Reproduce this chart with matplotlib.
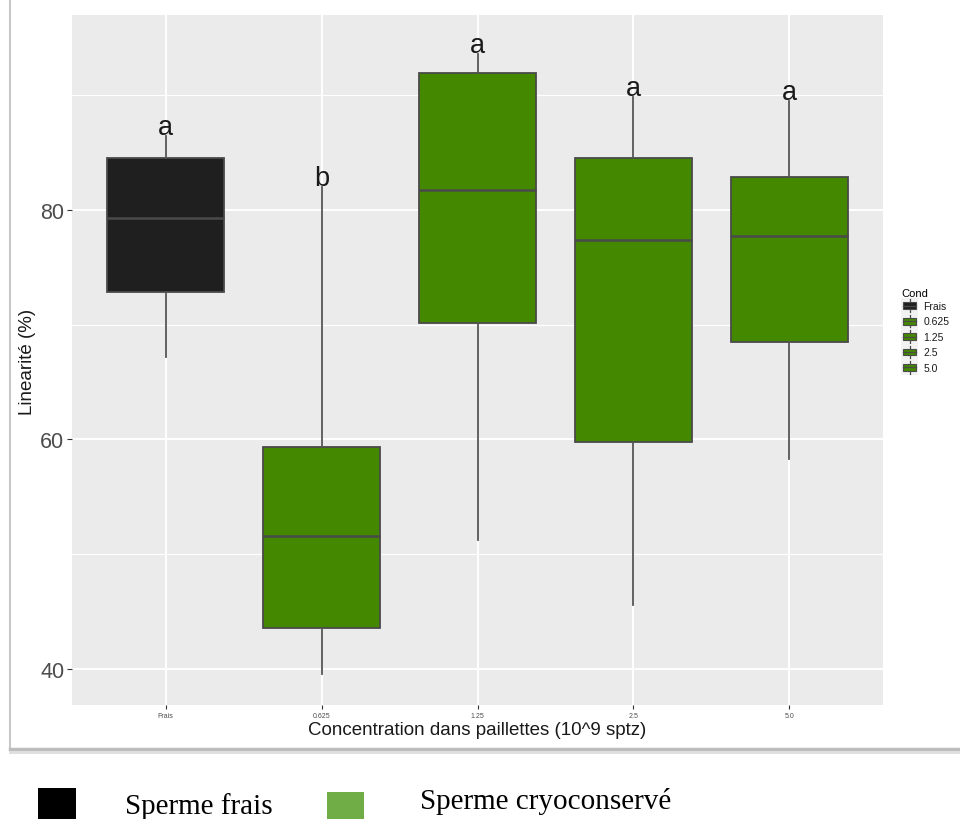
import matplotlib
matplotlib.use("Agg")
import matplotlib.pyplot as plt
from matplotlib.patches import Rectangle, Patch
from matplotlib.lines import Line2D
from matplotlib.legend_handler import HandlerBase

plt.rcParams['font.family'] = ['Liberation Sans', 'DejaVu Sans']

# linearity (%) per straw concentration
cond = ['Frais', '0.625', '1.25', '2.5', '5.0']
q1 = [72.85, 43.6, 70.15, 59.8, 68.5]
med = [79.3, 51.6, 81.75, 77.4, 77.7]
q3 = [84.5, 59.35, 91.95, 84.55, 82.9]
whislo = [67.2, 39.55, 51.25, 45.6, 58.3]
whishi = [86.45, 82.0, 93.6, 89.85, 89.5]
letters = ['a', 'b', 'a', 'a', 'a']

black = '#1f1f1f'
green = '#448800'
fills = [black, green, green, green, green]
edge = '#4a4a4a'

fig = plt.figure(figsize=(9.6, 8.2), dpi=100)
W, H = 960.0, 820.0
ax = fig.add_axes([72 / W, 1 - 706 / H, (883 - 72) / W, (706 - 16) / H])
ax.set_facecolor('#ebebeb')

stats = []
for i in range(len(cond)):
    stats.append({'label': cond[i], 'q1': q1[i], 'med': med[i], 'q3': q3[i],
                  'whislo': whislo[i], 'whishi': whishi[i], 'fliers': []})

pos = list(range(1, len(cond) + 1))
bp = ax.bxp(stats, positions=pos, widths=0.75, patch_artist=True, showcaps=False,
            boxprops=dict(edgecolor=edge, linewidth=1.3),
            medianprops=dict(color=edge, linewidth=1.8),
            whiskerprops=dict(color='#555555', linewidth=1.3), zorder=3)
for b, c in zip(bp['boxes'], fills):
    b.set_facecolor(c)

for i in range(len(cond)):
    ax.text(pos[i], whishi[i] + 0.15, letters[i], ha='center', va='baseline',
            fontsize=19.5, color='#1a1a1a', zorder=4)

ax.set_xlim(0.4, 5.6)
ax.set_ylim(36.85, 97.0)
ax.set_yticks([40, 60, 80])
ax.set_yticks([50, 70, 90], minor=True)
ax.set_xticks(pos)
ax.set_xticklabels(cond)
ax.grid(which='major', color='white', linewidth=1.4, zorder=0)
ax.grid(which='minor', axis='y', color='white', linewidth=0.8, zorder=0)
ax.set_axisbelow(True)
for s in ax.spines.values():
    s.set_visible(False)
ax.tick_params(axis='y', which='major', length=3.5, width=0.8, color='#333333',
               labelcolor='#4d4d4d', labelsize=15.5, pad=2)
ax.tick_params(axis='x', which='major', length=3, width=0.8, color='#333333',
               labelcolor='#4d4d4d', labelsize=5, pad=2)
ax.tick_params(which='minor', length=0)

fig.text(27 / W, 1 - 362 / H, 'Linearité (%)', rotation=90, ha='center', va='center',
         fontsize=13.5, color='#1a1a1a')
fig.text(477 / W, 1 - 731 / H, 'Concentration dans paillettes (10^9 sptz)', ha='center',
         va='center', fontsize=13.5, color='#1a1a1a')


# legend key drawn like a small boxplot
class BoxKey(HandlerBase):
    def create_artists(self, legend, orig_handle, xdescent, ydescent, width, height,
                       fontsize, trans):
        x0, y0 = -xdescent, -ydescent
        bg = Rectangle((x0, y0), width, height, fc='#f2f2f2', ec='none', transform=trans)
        cx = x0 + width / 2
        wl = Line2D([cx, cx], [y0 + 1, y0 + height - 1], color=edge, lw=0.9, transform=trans)
        bx = Rectangle((x0 + 1.5, y0 + height * 0.28), width - 3, height * 0.44,
                       fc=orig_handle.get_facecolor(), ec=edge, lw=0.8, transform=trans)
        md = Line2D([x0 + 1.5, x0 + width - 1.5], [y0 + height / 2] * 2, color=edge,
                    lw=0.9, transform=trans)
        return [bg, wl, bx, md]


handles = [Patch(facecolor=c) for c in fills]
leg = fig.legend(handles, cond, handler_map={Patch: BoxKey()}, loc='upper left',
                 bbox_to_anchor=(901 / W, 1 - 289 / H), frameon=False, fontsize=7.5,
                 title='Cond', title_fontsize=8, handlelength=1.65, handleheight=1.9,
                 labelspacing=0.0, handletextpad=0.5, borderpad=0, borderaxespad=0,
                 alignment='left')
for t in leg.get_texts():
    t.set_color('#1a1a1a')

# frame around the plot image
fig.add_artist(Line2D([10 / W, 10 / W], [1 - 750 / H, 1.0], color='#c8c8c8', lw=1.5))
fig.add_artist(Line2D([10 / W, 1.0], [1 - 750 / H, 1 - 750 / H], color='#bdbdbd', lw=2.5))
fig.add_artist(Line2D([10 / W, 1.0], [1 - 753 / H, 1 - 753 / H], color='#dedede', lw=2))

# colour key under the figure
fig.add_artist(Rectangle((38 / W, 1 - 820 / H), 38 / W, 31 / H, fc='black', ec='none',
                         transform=fig.transFigure))
fig.add_artist(Rectangle((327 / W, 1 - 820 / H), 37 / W, 27 / H, fc='#70ad47', ec='none',
                         transform=fig.transFigure))
fig.text(125 / W, 1 - 814 / H, 'Sperme frais', fontsize=21, family='Liberation Serif',
         va='baseline', color='black')
fig.text(420 / W, 1 - 809 / H, 'Sperme cryoconservé', fontsize=21, family='Liberation Serif',
         va='baseline', color='black')

fig.savefig('out.png', dpi=100)
